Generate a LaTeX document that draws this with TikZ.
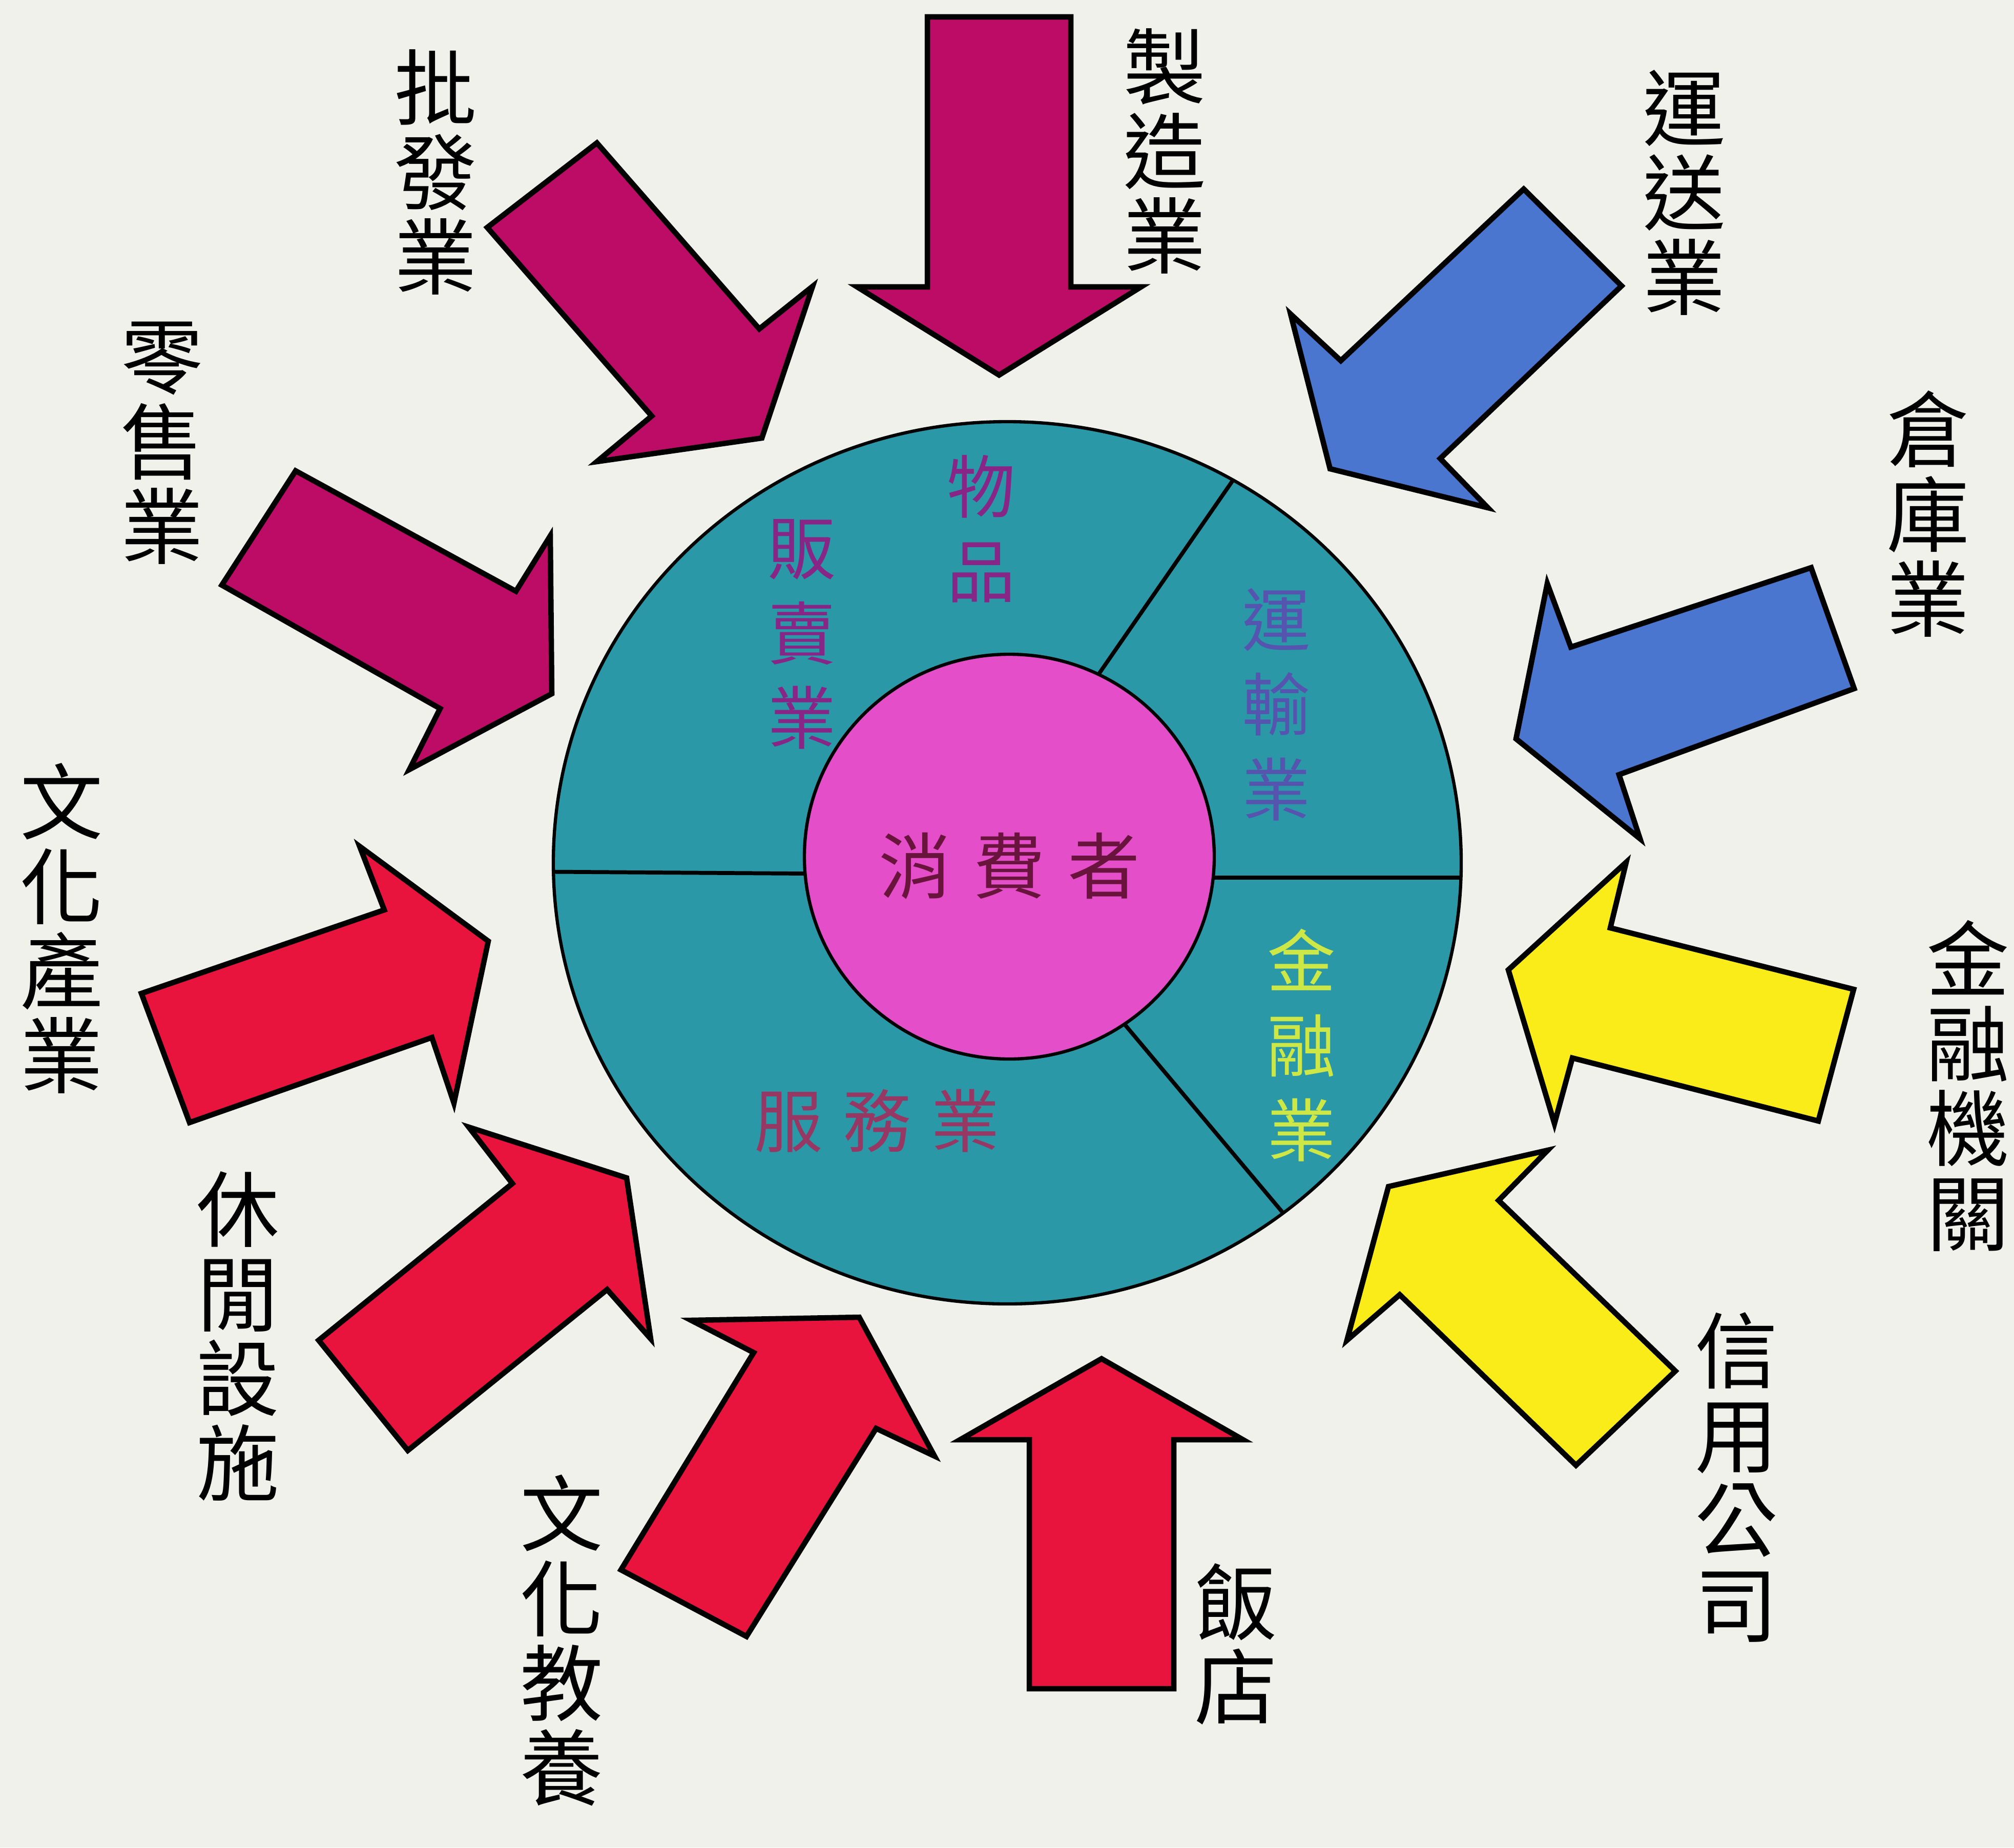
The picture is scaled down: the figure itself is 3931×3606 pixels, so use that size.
\documentclass[tikz,border=0pt]{standalone}
\usepackage{fontspec}
\newfontfamily\cjk{Noto Sans CJK TC}
\definecolor{bg}{RGB}{241,241,235}
\definecolor{ringc}{RGB}{42,152,166}
\definecolor{corec}{RGB}{228,78,200}
\definecolor{plum}{RGB}{188,12,102}
\definecolor{bluea}{RGB}{75,118,208}
\definecolor{yela}{RGB}{250,236,25}
\definecolor{reda}{RGB}{232,20,62}
\definecolor{txtgoods}{RGB}{135,38,135}
\definecolor{txttrans}{RGB}{85,85,175}
\definecolor{txtfin}{RGB}{205,232,70}
\definecolor{txtserv}{RGB}{150,55,100}
\definecolor{txtcore}{RGB}{105,20,60}
\tikzset{
  blockarrow/.style={draw=black, line width=3pt, line join=miter, miter limit=10},
  lbl/.style={font=\cjk\fontsize{46}{47}\selectfont, align=center, inner sep=0pt, text=black},
  ringlbl/.style={font=\cjk\fontsize{38}{47}\selectfont, align=center, inner sep=0pt},
}
\begin{document}
\begin{tikzpicture}[x=0.01cm,y=-0.01cm]
\useasboundingbox (0,0) rectangle (3931,3606);
\fill[bg] (0,0) rectangle (3931,3606);

% arrows
\draw[blockarrow, fill=plum] (1165,279) -- (1482,642) -- (1586,559) -- (1487,855) -- (1165,901) -- (1272,812) -- (951,444) -- cycle;
\draw[blockarrow, fill=plum] (1810,33) -- (2090,33) -- (2090,560) -- (2227,560) -- (1950,732) -- (1673,560) -- (1810,560) -- cycle;
\draw[blockarrow, fill=plum] (577,919) -- (1007,1154) -- (1074,1046) -- (1077,1354) -- (799,1502) -- (859,1383) -- (433,1142) -- cycle;
\draw[blockarrow, fill=bluea] (2974,369) -- (3165,558) -- (2811,895) -- (2904,991) -- (2596,915) -- (2519,613) -- (2617,704) -- cycle;
\draw[blockarrow, fill=bluea] (3535,1108) -- (3619,1344) -- (3160,1512) -- (3201,1637) -- (2959,1442) -- (3020,1139) -- (3066,1263) -- cycle;
\draw[blockarrow, fill=yela] (3618,1931) -- (3549,2188) -- (3069,2065) -- (3034,2193) -- (2944,1893) -- (3174,1683) -- (3143,1811) -- cycle;
\draw[blockarrow, fill=yela] (3270,2676) -- (3076,2860) -- (2732,2527) -- (2629,2616) -- (2710,2316) -- (3021,2245) -- (2925,2343) -- cycle;
\draw[blockarrow, fill=reda] (2009,3296) -- (2291,3296) -- (2291,2810) -- (2426,2810) -- (2150,2652) -- (1874,2810) -- (2009,2810) -- cycle;
\draw[blockarrow, fill=reda] (1212,3064) -- (1471,2640) -- (1349,2577) -- (1677,2571) -- (1824,2842) -- (1710,2788) -- (1457,3194) -- cycle;
\draw[blockarrow, fill=reda] (622,2616) -- (1000,2310) -- (915,2200) -- (1223,2299) -- (1270,2613) -- (1185,2517) -- (796,2831) -- cycle;
\draw[blockarrow, fill=reda] (276,1939) -- (750,1776) -- (702,1652) -- (953,1837) -- (886,2153) -- (843,2025) -- (370,2191) -- cycle;

% ring
\fill[ringc] (1966,1684) ellipse [x radius=886, y radius=861];
\begin{scope}
\clip (1966,1684) ellipse [x radius=886, y radius=861];
\draw[line width=2.2pt] (1000,1701) -- (1700,1706);
\draw[line width=2.2pt] (2250,1713) -- (2950,1713);
\draw[line width=2.2pt] (2100,1380) -- (2460,860);
\draw[line width=2.2pt] (2120,1910) -- (2540,2410);
\end{scope}
\draw[line width=1.8pt] (1966,1684) ellipse [x radius=886, y radius=861];
\draw[line width=1.8pt, fill=corec] (1970,1672) ellipse [x radius=400, y radius=395];

% ring labels
\node[ringlbl, text=txtgoods] (goods) at (1915,1032) {物\\品};
\node[ringlbl, text=txtgoods] (sales) at (1565,1238) {販\\賣\\業};
\node[ringlbl, text=txttrans] (trans) at (2491,1375) {運\\輸\\業};
\node[ringlbl, text=txtfin] (fin) at (2540,2040) {金\\融\\業};
\node[ringlbl, text=txtserv] (serv) at (1712,2188) {服\hspace{0.39cm}務\hspace{0.39cm}業};
\node[font=\cjk\fontsize{40}{47}\selectfont, inner sep=0pt, text=txtcore] (core) at (1970,1690) {消\hspace{0.44cm}費\hspace{0.44cm}者};

% outer labels
\node[lbl] (zhizao) at (2273,295) {製\\造\\業};
\node[lbl] (pifa) at (850,336) {批\\發\\業};
\node[lbl] (yunsong) at (3287,376) {運\\送\\業};
\node[lbl] (lingshou) at (316,865) {零\\售\\業};
\node[lbl] (cangku) at (3763,1003) {倉\\庫\\業};
\node[lbl] (wenchan) at (120,1812) {文\\化\\產\\業};
\node[lbl] (jinrong) at (3841,2119) {金\\融\\機\\關};
\node[lbl] (xiuxian) at (464,2608) {休\\閒\\設\\施};
\node[lbl] (xinyong) at (3389,2883) {信\\用\\公\\司};
\node[lbl] (wenjiao) at (1096,3202) {文\\化\\教\\養};
\node[lbl] (fandian) at (2412,3209) {飯\\店};
\end{tikzpicture}
\end{document}
